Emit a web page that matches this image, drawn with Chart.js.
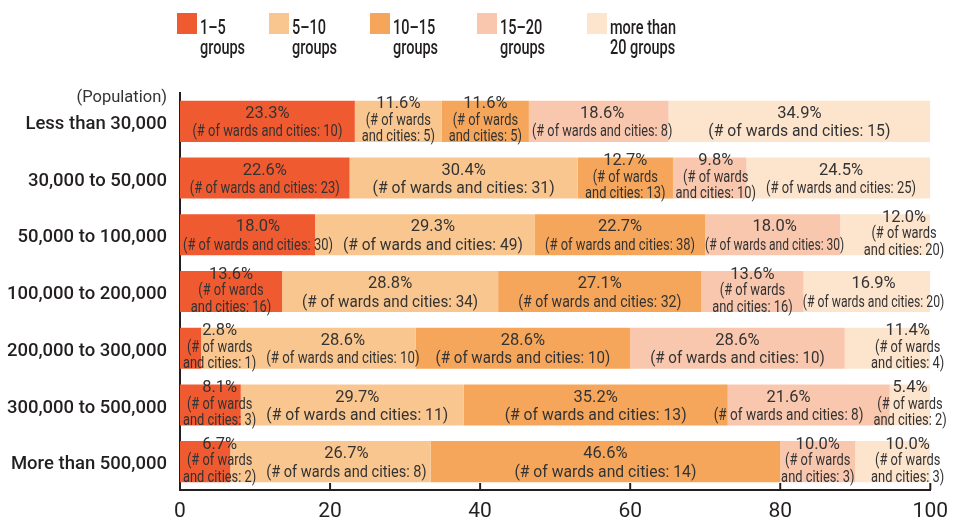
<!DOCTYPE html>
<html>
<head>
<meta charset="utf-8">
<script src="https://cdn.jsdelivr.net/npm/chart.js@4.4.1/dist/chart.umd.min.js"></script>
<style>
html,body{margin:0;padding:0;background:#fff;}
#wrap{width:957px;height:522px;position:relative;}
</style>
</head>
<body>
<div id="wrap"><canvas id="c" width="957" height="522"></canvas></div>
<script>
// ---- data ----
const categories = ['Less than 30,000','30,000 to 50,000','50,000 to 100,000','100,000 to 200,000','200,000 to 300,000','300,000 to 500,000','More than 500,000'];
const seriesLines = [['1–5','groups'],['5–10','groups'],['10–15','groups'],['15–20','groups'],['more than','20 groups']];
const share1to5   = [23.3, 22.6, 18.0, 13.6,  2.8,  8.1,  6.7];
const share5to10  = [11.6, 30.4, 29.3, 28.8, 28.6, 29.7, 26.7];
const share10to15 = [11.6, 12.7, 22.7, 27.1, 28.6, 35.2, 46.6];
const share15to20 = [18.6,  9.8, 18.0, 13.6, 28.6, 21.6, 10.0];
const shareOver20 = [34.9, 24.5, 12.0, 16.9, 11.4,  5.4, 10.0];
const count1to5   = [10, 23, 30, 16,  1,  3,  2];
const count5to10  = [ 5, 31, 49, 34, 10, 11,  8];
const count10to15 = [ 5, 13, 38, 32, 10, 13, 14];
const count15to20 = [ 8, 10, 30, 16, 10,  8,  3];
const countOver20 = [15, 25, 20, 20,  4,  2,  3];
const xTicks = [0, 20, 40, 60, 80, 100];
const axisNote = '(Population)';

const shares = [share1to5, share5to10, share10to15, share15to20, shareOver20];
const counts = [count1to5, count5to10, count10to15, count15to20, countOver20];
const colors = ['#F05A30', '#F9C68F', '#F6A65A', '#F9C7AD', '#FDE4CD'];

Chart.defaults.font.family = 'Roboto, "Open Sans", sans-serif';

function drawScaled(ctx, txt, x, y, sx) {
  ctx.save();
  ctx.translate(x, y);
  ctx.scale(sx, 1);
  ctx.fillText(txt, 0, 0);
  ctx.restore();
}

const barLabels = {
  id: 'barLabels',
  afterDatasetsDraw(chart) {
    const ctx = chart.ctx, area = chart.chartArea;
    const dsets = chart.data.datasets;
    const lastIdx = dsets.length - 1;
    const gap = 10, minW = 135;
    ctx.save();
    ctx.fillStyle = '#333333';
    ctx.textAlign = 'center';
    ctx.textBaseline = 'middle';
    ctx.font = '400 16.5px Roboto, "Open Sans", sans-serif';
    chart.data.labels.forEach((_, j) => {
      const items = dsets.map((ds, di) => {
        const bar = chart.getDatasetMeta(di).data[j];
        const v = ds.data[j], n = ds.counts[j];
        const x0 = Math.min(bar.x, bar.base), x1 = Math.max(bar.x, bar.base);
        const seg = x1 - x0;
        const pct = v.toFixed(1) + '%';
        const it = { di, x0, x1, cy: bar.y, cx: (x0 + x1) / 2 };
        if (seg < 110) {
          it.three = true;
          it.lines = [{ t: pct, sx: 1, dy: -17 }, { t: '(# of wards', sx: 0.78, dy: -0.5 }, { t: 'and cities: ' + n + ')', sx: 0.78, dy: 16 }];
          it.w = Math.max(...it.lines.map(l => ctx.measureText(l.t).width * l.sx));
        } else {
          it.three = false;
          const t = '(# of wards and cities: ' + n + ')';
          it.nat = ctx.measureText(t).width;
          it.w = Math.min(it.nat, Math.max(150, Math.min(182, seg - 40)));
          it.lines = [{ t: pct, sx: 1, dy: -7.5 }, { t: t, sx: it.w / it.nat, dy: 11 }];
        }
        if (it.cx - it.w / 2 < area.left + 3) it.cx = area.left + 3 + it.w / 2;
        if (it.three && di === lastIdx) it.cx = Math.max(it.cx, area.right + 14 - it.w / 2);
        return it;
      });
      for (let k = 1; k < items.length; k++) {
        const a = items[k - 1], b = items[k];
        const need = (a.cx + a.w / 2 + gap) - (b.cx - b.w / 2);
        if (need <= 0) continue;
        if (!b.three) {
          const maxRight = b.x1 + (b.di === lastIdx ? 14 : 4);
          const leftReq = a.cx + a.w / 2 + gap;
          if (b.cx + b.w / 2 + need <= maxRight) {
            b.cx += need;
          } else {
            b.w = Math.max(minW, Math.min(b.w, maxRight - leftReq));
            b.cx = leftReq + b.w / 2;
            b.lines[1].sx = b.w / b.nat;
          }
        } else if (!a.three) {
          const minLeft = Math.max(area.left + 3, a.x0 - 14);
          const rightReq = b.cx - b.w / 2 - gap;
          if (a.cx - a.w / 2 - need >= minLeft) {
            a.cx -= need;
          } else {
            a.w = Math.max(minW, Math.min(a.w, rightReq - minLeft));
            a.cx = rightReq - a.w / 2;
            a.lines[1].sx = a.w / a.nat;
          }
        } else {
          b.cx += need;
        }
      }
      items.forEach(it => it.lines.forEach(l => drawScaled(ctx, l.t, it.cx, it.cy + l.dy, l.sx)));
    });
    ctx.restore();
  }
};

const decorations = {
  id: 'decorations',
  afterDraw(chart) {
    const ctx = chart.ctx, area = chart.chartArea;
    const xs = chart.scales.x;
    ctx.save();
    // inward tick marks on x axis
    ctx.strokeStyle = '#231f20';
    ctx.lineWidth = 2;
    xs.ticks.forEach(t => {
      if (t.value === 0) return;
      const px = xs.getPixelForValue(t.value);
      ctx.beginPath();
      ctx.moveTo(px, area.bottom);
      ctx.lineTo(px, area.bottom - 7);
      ctx.stroke();
    });
    // population note
    ctx.fillStyle = '#333333';
    ctx.font = '400 16.5px Roboto, "Open Sans", sans-serif';
    ctx.textAlign = 'right';
    ctx.textBaseline = 'middle';
    ctx.fillText(axisNote, 167, 98);
    // legend
    const boxX = [177, 269, 370, 477, 587];
    ctx.textAlign = 'left';
    ctx.textBaseline = 'alphabetic';
    ctx.font = '500 21px Roboto, "Open Sans", sans-serif';
    chart.data.datasets.forEach((ds, i) => {
      ctx.fillStyle = ds.backgroundColor;
      ctx.fillRect(boxX[i], 13, 20, 21);
      ctx.fillStyle = '#231f20';
      ds.lines.forEach((ln, k) => {
        ctx.save();
        ctx.translate(boxX[i] + 23, 33.5 + k * 20.5);
        ctx.scale(0.69, 1);
        ctx.fillText(ln, 0, 0);
        ctx.restore();
      });
    });
    ctx.restore();
  }
};

new Chart(document.getElementById('c'), {
  type: 'bar',
  data: {
    labels: categories,
    datasets: shares.map((s, i) => ({
      label: seriesLines[i].join(' '),
      lines: seriesLines[i],
      data: s,
      counts: counts[i],
      backgroundColor: colors[i],
      borderWidth: 0,
      barPercentage: 0.724,
      categoryPercentage: 1
    }))
  },
  options: {
    indexAxis: 'y',
    responsive: false,
    animation: false,
    events: [],
    layout: { padding: { top: 93, right: 25, bottom: 0, left: 0 } },
    plugins: { legend: { display: false }, tooltip: { enabled: false } },
    scales: {
      x: {
        type: 'linear', min: 0, max: 100, stacked: true, position: 'bottom', z: 1,
        grid: { display: false, drawTicks: false },
        border: { display: true, color: '#231f20', width: 2 },
        ticks: { font: { size: 21 }, color: '#231f20', padding: 9, autoSkip: false, maxRotation: 0 },
        afterBuildTicks: s => { s.ticks = xTicks.map(v => ({ value: v })); },
        afterFit: s => { s.height = 32; }
      },
      y: {
        type: 'category', stacked: true, z: 1,
        grid: { display: false, drawTicks: false },
        border: { display: true, color: '#231f20', width: 2 },
        ticks: { font: { size: 18.5, weight: '500' }, color: '#231f20', padding: 13, labelOffset: 3, autoSkip: false },
        afterFit: s => { s.width = 180; }
      }
    }
  },
  plugins: [barLabels, decorations]
});
</script>
</body>
</html>
